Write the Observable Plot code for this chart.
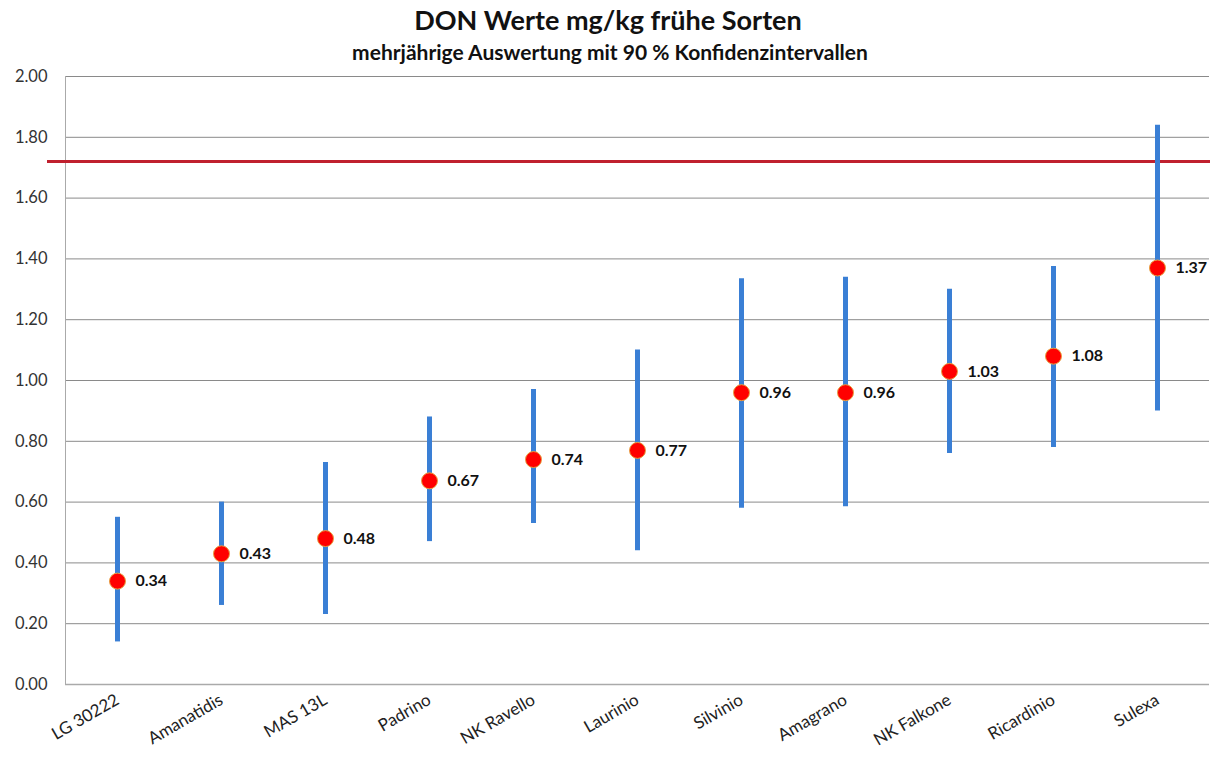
<!DOCTYPE html>
<html>
<head>
<meta charset="utf-8">
<script src="https://cdn.jsdelivr.net/npm/d3@7"></script>
<script src="https://cdn.jsdelivr.net/npm/@observablehq/plot@0.6"></script>
<style>
  body { margin: 0; background: #fff; font-family: Lato, "Open Sans", sans-serif; }
  #title { height: 38px; line-height: 40px; text-align: center; font-size: 27px; font-weight: bold; color: #111; padding-left: 6px; }
  #subtitle { height: 28px; line-height: 28px; text-align: center; font-size: 21px; font-weight: bold; color: #111; padding-left: 10px; }
  #chart svg { display: block; }
</style>
</head>
<body>
<div id="title">DON Werte mg/kg frühe Sorten</div>
<div id="subtitle">mehrjährige Auswertung mit 90 % Konfidenzintervallen</div>
<div id="chart"></div>
<script>
const categories = ["LG 30222", "Amanatidis", "MAS 13L", "Padrino", "NK Ravello", "Laurinio", "Silvinio", "Amagrano", "NK Falkone", "Ricardinio", "Sulexa"];
const means = [0.34, 0.43, 0.48, 0.67, 0.74, 0.77, 0.96, 0.96, 1.03, 1.08, 1.37];
const lower = [0.14, 0.26, 0.23, 0.47, 0.53, 0.44, 0.58, 0.585, 0.76, 0.78, 0.90];
const upper = [0.55, 0.60, 0.73, 0.88, 0.97, 1.10, 1.335, 1.34, 1.30, 1.375, 1.84];
const threshold = [1.72];
const yTicks = [0, 0.2, 0.4, 0.6, 0.8, 1.0, 1.2, 1.4, 1.6, 1.8, 2.0];

const rows = categories.map((c, i) => ({ sorte: c, mean: means[i], lo: lower[i], hi: upper[i] }));

const chart = Plot.plot({
  width: 1210,
  height: 694,
  marginLeft: 65,
  marginRight: 1,
  marginTop: 10,
  marginBottom: 76,
  style: { fontFamily: "Lato, 'Open Sans', sans-serif", fontSize: "14px", color: "#333", background: "#fff" },
  x: { type: "band", domain: categories, label: null, padding: 0, round: false },
  y: { domain: [0, 2], label: null },
  marks: [
    Plot.gridY(yTicks, { stroke: "#8a8a8a", strokeOpacity: 1, strokeWidth: 1 }),
    Plot.ruleX([categories[0]], { x: d => d, stroke: "#aaa", dx: -52, y1: 0, y2: 2 }),
    Plot.ruleY([0], { stroke: "#aaa", strokeWidth: 1.5 }),
    Plot.ruleY(threshold, { stroke: "#c0202e", strokeWidth: 3, insetLeft: -18, insetRight: -1 }),
    Plot.ruleX(rows, { x: "sorte", y1: "lo", y2: "hi", stroke: "#3a7fd5", strokeWidth: 5 }),
    Plot.dot(rows, { x: "sorte", y: "mean", r: 8, fill: "#ff0000", stroke: "#e8a040", strokeWidth: 1 }),
    Plot.text(rows, { x: "sorte", y: "mean", text: d => d.mean.toFixed(2), dx: 18, textAnchor: "start", fontWeight: "bold", fontSize: 16, fill: "#111" }),
    Plot.axisY(yTicks, { tickFormat: d => d.toFixed(2), tickSize: 0, tickPadding: 18, fontSize: 16.5, fill: "#333" }),
    Plot.axisX({ tickSize: 0, tickRotate: -30, tickPadding: 14, fontSize: 17, fill: "#222" })
  ]
});
document.getElementById("chart").appendChild(chart);
</script>
</body>
</html>
